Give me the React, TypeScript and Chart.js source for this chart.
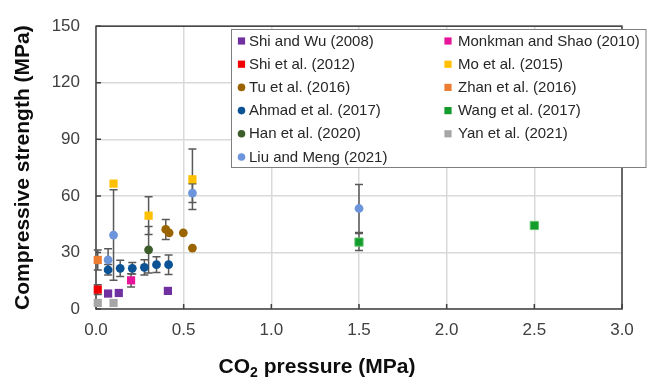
import { useEffect, useRef } from 'react';
import { Chart, registerables } from 'chart.js';

Chart.register(...registerables);

// ---- Data ----
const xTicks = [0, 0.5, 1.0, 1.5, 2.0, 2.5, 3.0];
const yTicks = [0, 30, 60, 90, 120, 150];

const shiWuX = [0.069, 0.13, 0.41];
const shiWuY = [8.2, 8.5, 9.6];

const monkmanX = [0.2];
const monkmanY = [15.2];
const monkmanErr = [3.5];

const shiX = [0.01];
const shiY = [10.3];
const shiErr = [2.6];

const moX = [0.1, 0.3, 0.55];
const moY = [66.5, 49.5, 68.8];
const moErr = [0, 10, 16];

const tuX = [0.398, 0.417, 0.498, 0.55];
const tuY = [42.2, 40.4, 40.4, 32.3];
const tuErr = [5.3, 0, 0, 0];

const zhanX = [0.01];
const zhanY = [26];
const zhanErr = [5.3];

const ahmadX = [0.069, 0.138, 0.207, 0.276, 0.345, 0.414];
const ahmadY = [20.8, 21.6, 21.6, 22.1, 23.5, 23.5];
const ahmadErr = [2.8, 4.3, 3.0, 4.0, 4.2, 5.2];

const wangX = [1.5, 2.5];
const wangY = [35.5, 44.3];
const wangErr = [4.5, 0];

const hanX = [0.3];
const hanY = [31.4];
const hanErr = [12.3];

const yanX = [0.01, 0.1];
const yanY = [3.2, 3.2];

const liuX = [0.069, 0.1, 0.55, 1.5];
const liuY = [26, 39.2, 61.5, 53.3];
const liuErr = [6, 24, 5, 12.7];

const labels = [
  'Shi and Wu (2008)',
  'Monkman and Shao (2010)',
  'Shi et al. (2012)',
  'Mo et al. (2015)',
  'Tu et al. (2016)',
  'Zhan et al. (2016)',
  'Ahmad et al. (2017)',
  'Wang et al. (2017)',
  'Han et al. (2020)',
  'Yan et al. (2021)',
  'Liu and Meng (2021)',
];

const colors = [
  '#7030a0',
  '#e5169b',
  '#f00000',
  '#ffc000',
  '#9a6500',
  '#ed7d31',
  '#0b5394',
  '#139b2c',
  '#3d5e2a',
  '#a6a6a6',
  '#6d95db',
];

const styles = ['rect', 'rect', 'rect', 'rect', 'circle', 'rect', 'circle', 'rect', 'circle', 'rect', 'circle'];

const xs = [shiWuX, monkmanX, shiX, moX, tuX, zhanX, ahmadX, wangX, hanX, yanX, liuX];
const ys = [shiWuY, monkmanY, shiY, moY, tuY, zhanY, ahmadY, wangY, hanY, yanY, liuY];
const errs = [null, monkmanErr, shiErr, moErr, tuErr, zhanErr, ahmadErr, wangErr, hanErr, null, liuErr];

const FONT = "'Liberation Sans', Arial, sans-serif";

const framePlugin = {
  id: 'frame',
  beforeDatasetsDraw(chart: any) {
    const { ctx, chartArea: a, scales } = chart;
    ctx.save();
    ctx.strokeStyle = '#404040';
    ctx.lineWidth = 1.5;
    ctx.strokeRect(a.left, a.top, a.right - a.left, a.bottom - a.top);
    ctx.beginPath();
    scales.x.ticks.forEach((t: any) => {
      const px = scales.x.getPixelForValue(t.value);
      ctx.moveTo(px, a.bottom);
      ctx.lineTo(px, a.bottom - 5);
    });
    scales.y.ticks.forEach((t: any) => {
      const py = scales.y.getPixelForValue(t.value);
      ctx.moveTo(a.left, py);
      ctx.lineTo(a.left + 5, py);
    });
    ctx.stroke();
    ctx.restore();
  },
};

const errorBarPlugin = {
  id: 'errorBars',
  beforeDatasetsDraw(chart: any) {
    const { ctx, scales } = chart;
    ctx.save();
    ctx.strokeStyle = '#595959';
    ctx.lineWidth = 1.5;
    chart.data.datasets.forEach((ds: any) => {
      const e = ds.errors;
      if (!e) return;
      ds.data.forEach((p: any, i: number) => {
        if (!e[i]) return;
        const px = scales.x.getPixelForValue(p.x);
        const top = scales.y.getPixelForValue(p.y + e[i]);
        const bot = scales.y.getPixelForValue(p.y - e[i]);
        ctx.beginPath();
        ctx.moveTo(px, top);
        ctx.lineTo(px, bot);
        ctx.moveTo(px - 4, top);
        ctx.lineTo(px + 4, top);
        ctx.moveTo(px - 4, bot);
        ctx.lineTo(px + 4, bot);
        ctx.stroke();
      });
    });
    ctx.restore();
  },
};

const legendPlugin = {
  id: 'boxLegend',
  afterDraw(chart: any) {
    const { ctx } = chart;
    const left = 231.5, top = 29.5, right = 646, bottom = 167.5;
    ctx.save();
    ctx.fillStyle = '#ffffff';
    ctx.fillRect(left, top, right - left, bottom - top);
    ctx.strokeStyle = '#7f7f7f';
    ctx.lineWidth = 1;
    ctx.strokeRect(left, top, right - left, bottom - top);
    ctx.font = `15px ${FONT}`;
    ctx.textBaseline = 'middle';
    chart.data.datasets.forEach((ds: any, i: number) => {
      const col = i % 2;
      const row = Math.floor(i / 2);
      const cy = 41 + row * 23.2;
      const mx = col === 0 ? 241.5 : 448;
      const tx = col === 0 ? 249 : 458;
      ctx.fillStyle = ds.backgroundColor;
      if (ds.pointStyle === 'circle') {
        ctx.beginPath();
        ctx.arc(mx, cy, 3.8, 0, Math.PI * 2);
        ctx.fill();
      } else {
        ctx.fillRect(mx - 3.6, cy - 3.6, 7.2, 7.2);
      }
      ctx.fillStyle = '#262626';
      ctx.fillText(ds.label, tx, cy + 0.5);
    });
    ctx.restore();
  },
};

const xTitlePlugin = {
  id: 'xTitle',
  afterDraw(chart: any) {
    const { ctx, chartArea: a } = chart;
    const main = `bold 21px ${FONT}`;
    const sub = `bold 14px ${FONT}`;
    const p1 = 'CO', p2 = '2', p3 = ' pressure (MPa)';
    ctx.save();
    ctx.fillStyle = '#0d0d0d';
    ctx.textBaseline = 'alphabetic';
    ctx.textAlign = 'left';
    ctx.font = main;
    const w1 = ctx.measureText(p1).width;
    const w3 = ctx.measureText(p3).width;
    ctx.font = sub;
    const w2 = ctx.measureText(p2).width;
    const cx = (a.left + a.right) / 2 - 42;
    const base = a.bottom + 64;
    let x0 = cx - (w1 + w2 + w3) / 2;
    ctx.font = main;
    ctx.fillText(p1, x0, base);
    x0 += w1;
    ctx.font = sub;
    ctx.fillText(p2, x0, base + 4);
    x0 += w2;
    ctx.font = main;
    ctx.fillText(p3, x0, base);
    ctx.restore();
  },
};

export default function App() {
  const ref = useRef<HTMLCanvasElement | null>(null);

  useEffect(() => {
    if (!ref.current) return;
    Chart.defaults.font.family = FONT;
    const datasets = labels.map((label, i) => ({
      label,
      data: xs[i].map((x, j) => ({ x, y: ys[i][j] })),
      errors: errs[i],
      backgroundColor: colors[i],
      borderColor: i === 7 ? '#5fc46c' : colors[i],
      borderWidth: i === 7 ? 1 : 0,
      pointStyle: styles[i],
      pointRadius: styles[i] === 'rect' ? 5.8 : 4.4,
      pointHoverRadius: styles[i] === 'rect' ? 5.8 : 4.4,
      showLine: false,
      clip: false as any,
    }));

    const chart = new Chart(ref.current, {
      type: 'scatter',
      data: { datasets: datasets as any },
      options: {
        animation: false,
        responsive: true,
        maintainAspectRatio: false,
        layout: { padding: { top: 22, right: 25, left: 0, bottom: 0 } },
        plugins: {
          legend: { display: false },
          tooltip: { enabled: false },
        },
        scales: {
          x: {
            type: 'linear',
            min: 0,
            max: 3,
            afterBuildTicks: (s: any) => {
              s.ticks = xTicks.map((v) => ({ value: v }));
            },
            afterFit: (s: any) => {
              s.height = 69;
            },
            ticks: {
              padding: 11,
              color: '#404040',
              font: { size: 17, family: FONT },
              callback: (v: any) => Number(v).toFixed(1),
            },
            grid: { color: '#d9d9d9', lineWidth: 1.5, drawTicks: false },
            border: { display: false },
          },
          y: {
            type: 'linear',
            min: 0,
            max: 150,
            afterBuildTicks: (s: any) => {
              s.ticks = yTicks.map((v) => ({ value: v }));
            },
            afterFit: (s: any) => {
              s.width = 96;
            },
            ticks: {
              padding: 16,
              color: '#404040',
              font: { size: 17, family: FONT },
            },
            grid: { color: '#d9d9d9', lineWidth: 1.5, drawTicks: false },
            border: { display: false },
            title: {
              display: true,
              text: 'Compressive strength (MPa)',
              color: '#0d0d0d',
              font: { size: 21, weight: 'bold', family: FONT },
              padding: { top: 11, bottom: 0 },
            },
          },
        },
      },
      plugins: [framePlugin, errorBarPlugin, legendPlugin, xTitlePlugin],
    });
    return () => chart.destroy();
  }, []);

  return (
    <div style={{ position: 'fixed', left: 0, top: 0, width: 647, height: 378 }}>
      <canvas ref={ref} />
    </div>
  );
}
